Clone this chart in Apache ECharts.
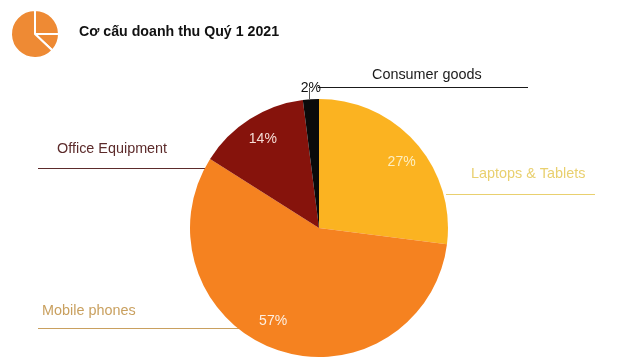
<!DOCTYPE html>
<html>
<head>
<meta charset="utf-8">
<style>
  html, body { margin: 0; padding: 0; background: #fff; }
  #chart { width: 640px; height: 359px; }
</style>
<script src="https://cdn.jsdelivr.net/npm/echarts@6/dist/echarts.min.js"></script>
</head>
<body>
<div id="chart"></div>
<script>
const chartTitle = 'Cơ cấu doanh thu Quý 1 2021';
const categories = ['Laptops & Tablets', 'Mobile phones', 'Office Equipment', 'Consumer goods'];
const shares = [27, 57, 14, 2];
const sliceColors = ['#fbb321', '#f58220', '#86130c', '#0a0a0a'];
const pctColors = ['#fdeec0', '#fdeee0', '#f5dcd5', '#111111'];
const iconShares = [25, 12, 63];

const fontFamily = '"Liberation Sans", Arial, sans-serif';

// callouts: text + rule under it, placed by hand like in the slide
const callouts = [
  { name: categories[0], color: '#e9d06f', tx: 471, ty: 174, line: [446, 194.5, 595, 194.5] },
  { name: categories[1], color: '#c9a05f', tx: 42, ty: 311, line: [38, 328.5, 240, 328.5] },
  { name: categories[2], color: '#5c2b2b', tx: 57, ty: 149, line: [38, 168.5, 206, 168.5] },
  { name: categories[3], color: '#1a1a1a', tx: 372, ty: 75, line: [318, 87.5, 528, 87.5] }
];

const graphics = [];
callouts.forEach((c) => {
  graphics.push({
    type: 'line',
    silent: true,
    z: 1,
    shape: { x1: c.line[0], y1: c.line[1], x2: c.line[2], y2: c.line[3] },
    style: { stroke: c.color, lineWidth: 1 }
  });
  graphics.push({
    type: 'text',
    x: c.tx,
    y: c.ty,
    style: { text: c.name, fill: c.color, font: '14.4px ' + fontFamily, textVerticalAlign: 'middle' }
  });
});
// small leader of the 2% label
graphics.push({
  type: 'line',
  silent: true,
  shape: { x1: 309.5, y1: 88, x2: 309.5, y2: 99 },
  style: { stroke: '#555', lineWidth: 1 }
});

// offsets push the percent labels out toward the rim
const pctOffsets = [[32, -21], [-23, 30], [-20, -32], [-4, -72]];

const chart = echarts.init(document.getElementById('chart'));
chart.setOption({
  animation: false,
  backgroundColor: '#fff',
  title: {
    text: chartTitle,
    left: 74,
    top: 20,
    textStyle: { fontFamily: fontFamily, fontSize: 14.2, fontWeight: 'bold', color: '#111' }
  },
  graphic: graphics,
  series: [
    {
      type: 'pie',
      silent: true,
      center: [319, 228],
      radius: [0, 129],
      startAngle: 90,
      clockwise: true,
      z: 5,
      data: categories.map((name, i) => ({
        name,
        value: shares[i],
        itemStyle: { color: sliceColors[i] },
        label: { color: pctColors[i] }
      })),
      label: {
        show: true,
        position: 'inside',
        formatter: '{d}%',
        fontFamily: fontFamily,
        fontSize: 14
      },
      labelLine: { show: false },
      labelLayout: (params) => ({
        dx: pctOffsets[params.dataIndex][0],
        dy: pctOffsets[params.dataIndex][1]
      })
    },
    {
      type: 'pie',
      silent: true,
      center: [35, 34],
      radius: [0, 24],
      startAngle: 90,
      clockwise: true,
      label: { show: false },
      labelLine: { show: false },
      itemStyle: { color: '#ee8a34', borderColor: '#fff', borderWidth: 2 },
      data: iconShares.map((value) => ({ value }))
    }
  ]
});
</script>
</body>
</html>
